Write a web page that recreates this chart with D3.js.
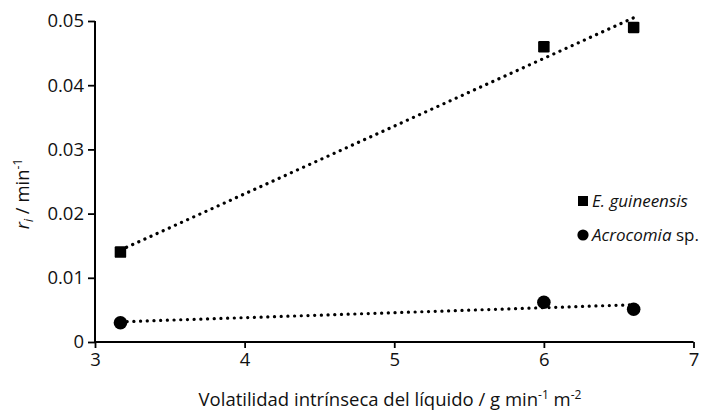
<!DOCTYPE html>
<html>
<head>
<meta charset="utf-8">
<script src="https://cdn.jsdelivr.net/npm/d3@7"></script>
<style>
  body { margin: 0; background: #fff; }
  svg text { font-family: "Open Sans", "Noto Sans", sans-serif; fill: #111; }
</style>
</head>
<body>
<svg id="chart" width="715" height="412"></svg>
<script>
// values
const volatility = [3.17, 6.0, 6.6]
const guineensis = [0.014, 0.046, 0.049]
const acrocomia = [0.003, 0.0062, 0.0051]
const xTicks = [3, 4, 5, 6, 7]
const yTicks = [0, 0.01, 0.02, 0.03, 0.04, 0.05]

const svg = d3.select("#chart")
const x = d3.scaleLinear().domain([3, 7]).range([95, 693.5])
const y = d3.scaleLinear().domain([0, 0.05]).range([342, 21])

// least squares trend line
function fit(xs, ys) {
  const mx = d3.mean(xs), my = d3.mean(ys)
  const sxy = d3.sum(xs, (v, i) => (v - mx) * (ys[i] - my))
  const sxx = d3.sum(xs, v => (v - mx) * (v - mx))
  const b = sxy / sxx
  return v => my + b * (v - mx)
}

const series = [
  {name: "guineensis", values: guineensis, shape: "square"},
  {name: "acrocomia", values: acrocomia, shape: "circle"}
]

// trend lines first so markers sit on top
series.forEach(s => {
  const f = fit(volatility, s.values)
  const ends = d3.extent(volatility)
  svg.append("line")
    .attr("x1", x(ends[0])).attr("y1", y(f(ends[0])))
    .attr("x2", x(ends[1])).attr("y2", y(f(ends[1])))
    .attr("stroke", "#000")
    .attr("stroke-width", 3.2)
    .attr("stroke-linecap", "round")
    .attr("stroke-dasharray", "0.1 6.6")
})

// axes
const yAxis = svg.append("g")
  .attr("transform", `translate(${x(3)},0)`)
  .call(d3.axisLeft(y).tickValues(yTicks).tickSize(7).tickPadding(4)
    .tickFormat(d => d === 0 ? "0" : d3.format(".2f")(d)))
const xAxis = svg.append("g")
  .attr("transform", `translate(0,${y(0)})`)
  .call(d3.axisBottom(x).tickValues(xTicks).tickSize(6).tickPadding(5)
    .tickFormat(d3.format("d")))

;[xAxis, yAxis].forEach(g => {
  g.select(".domain").attr("stroke", "#000").attr("stroke-width", 2)
  g.selectAll(".tick line").attr("stroke", "#000").attr("stroke-width", 1.8)
  g.selectAll(".tick text").style("font-size", "18.5px").attr("fill", "#111")
})
xAxis.select(".domain").attr("d", `M${x(3)},0H${x(7)}`)
yAxis.select(".domain").attr("d", `M0,${y(0.05)}V${y(0)}`)

// markers
const sq = 11.5
series.forEach(s => {
  const g = svg.append("g")
  volatility.forEach((v, i) => {
    if (s.shape === "square") {
      g.append("rect")
        .attr("x", x(v) - sq / 2).attr("y", y(s.values[i]) - sq / 2)
        .attr("width", sq).attr("height", sq).attr("rx", 1.2)
        .attr("fill", "#000")
    } else {
      g.append("circle")
        .attr("cx", x(v)).attr("cy", y(s.values[i])).attr("r", 6.8)
        .attr("fill", "#000")
    }
  })
})

// axis titles
const xt = svg.append("text")
  .attr("x", 390).attr("y", 406)
  .attr("text-anchor", "middle")
  .style("font-size", "18.5px")
xt.append("tspan").text("Volatilidad intrínseca del líquido / g min")
xt.append("tspan").attr("dy", -7).style("font-size", "12px").text("-1")
xt.append("tspan").attr("dy", 7).text(" m")
xt.append("tspan").attr("dy", -7).style("font-size", "12px").text("-2")

const yt = svg.append("text")
  .attr("transform", "translate(29,194) rotate(-90)")
  .attr("text-anchor", "middle")
  .style("font-size", "18.5px")
yt.append("tspan").style("font-style", "italic").text("r")
yt.append("tspan").attr("dy", 4).style("font-style", "italic").style("font-size", "12px").text("i")
yt.append("tspan").attr("dy", -4).text(" / min")
yt.append("tspan").attr("dy", -7).style("font-size", "12px").text("-1")

// legend
const legend = svg.append("g").attr("transform", "translate(583,0)")
legend.append("rect").attr("x", -5).attr("y", 196).attr("width", 10).attr("height", 10).attr("fill", "#000")
legend.append("text").attr("x", 9).attr("y", 207).style("font-size", "17px").style("font-style", "italic").text("E. guineensis")
legend.append("circle").attr("cx", 0).attr("cy", 235).attr("r", 5.6).attr("fill", "#000")
const lt = legend.append("text").attr("x", 9).attr("y", 241).style("font-size", "17px")
lt.append("tspan").style("font-style", "italic").text("Acrocomia")
lt.append("tspan").text(" sp.")
</script>
</body>
</html>
